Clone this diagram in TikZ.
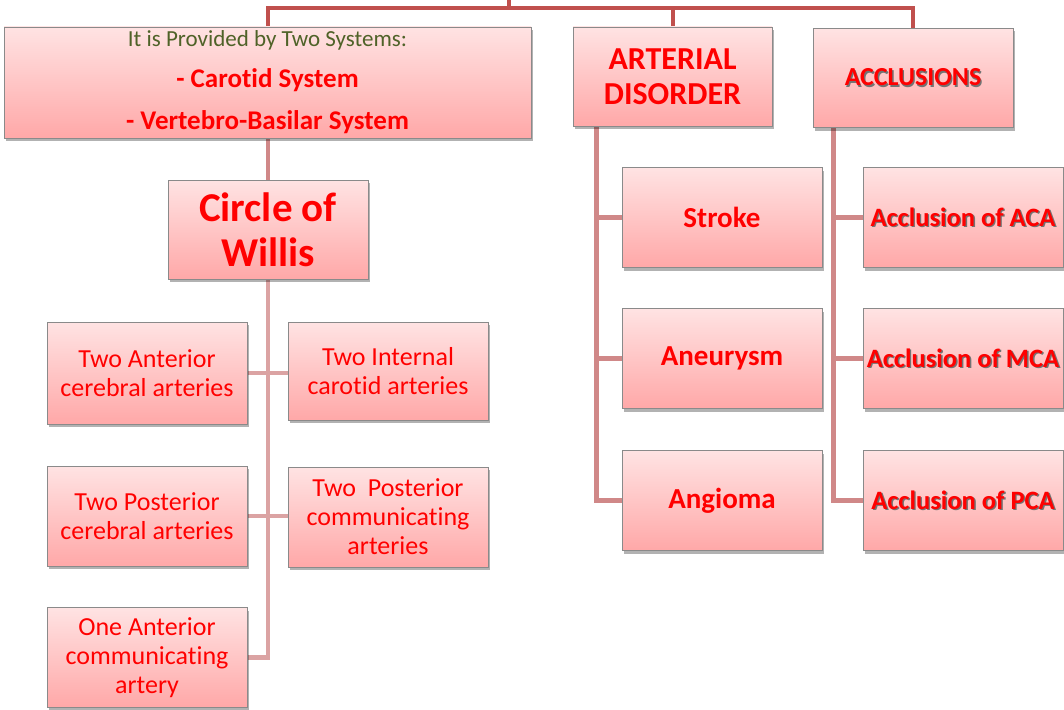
\documentclass[tikz,border=0pt]{standalone}
\usepackage{fontspec}
\setmainfont{Carlito}[Ligatures=CommonOff]
\usetikzlibrary{shadows}
\definecolor{toplinec}{HTML}{C0504D}
\definecolor{midlinec}{HTML}{D08888}
\definecolor{lowlinec}{HTML}{DBA3A3}
\definecolor{boxtop}{HTML}{FFE3E3}
\definecolor{boxbot}{HTML}{FFA8A8}
\definecolor{boxedge}{HTML}{8A8A8A}
\definecolor{olivetext}{HTML}{4F6228}
\definecolor{redtext}{HTML}{FF0000}
\newcommand\txtshadow[1]{\leavevmode\rlap{\kern1.4pt\raisebox{-1.4pt}{\textcolor{black!55}{#1}}}#1}
\pgfdeclarelayer{bg}
\pgfsetlayers{bg,main}
\begin{document}
\begin{tikzpicture}[x=1pt,y=-1pt,
  box/.style={draw=boxedge, line width=0.8pt, top color=boxtop, bottom color=boxbot,
    drop shadow={shadow xshift=2pt, shadow yshift=-3pt, opacity=0.3, fill=black},
    align=center, text=redtext, inner sep=2pt, minimum width=200pt, minimum height=100pt},
  boldbig/.style={font=\fontsize{29}{32}\selectfont\bfseries},
  boldacc/.style={font=\fontsize{26.5}{30}\selectfont\bfseries},
  plain/.style={font=\fontsize{26}{29}\selectfont},
  topline/.style={draw=toplinec, line width=4pt},
  midline/.style={draw=midlinec, line width=4.5pt},
  lowline/.style={draw=lowlinec, line width=4.5pt}]
\useasboundingbox (0,0) rectangle (1064,709);

% nodes
\node[box, minimum width=527pt, minimum height=111pt] (prov) at (267.5,82.5)
  {{\fontsize{23}{23}\selectfont\color{olivetext}It is Provided by Two Systems:}\\[17pt]
   {\fontsize{27}{27}\selectfont\bfseries - Carotid System}\\[18pt]
   {\fontsize{27}{27}\selectfont\bfseries - Vertebro-Basilar System}};
\node[box, minimum height=99pt, font=\fontsize{41}{45}\selectfont\bfseries] (cow) at (268,229.5) {Circle of\\Willis};
\node[box, minimum width=199pt, minimum height=99pt, font=\fontsize{32}{35}\selectfont\bfseries] (art) at (672.5,76.5) {ARTERIAL\\DISORDER};
\node[box, minimum height=99pt, font=\fontsize{26}{29}\selectfont\bfseries] (acc) at (913,78) {\txtshadow{ACCLUSIONS}};

\node[box, boldbig] (str) at (722,217.5) {Stroke};
\node[box, boldbig] (ane) at (722,358.5) {Aneurysm};
\node[box, boldbig] (ang) at (722,500.5) {Angioma};

\node[box, boldacc] (aca) at (963,217.5) {\txtshadow{Acclusion of ACA}};
\node[box, boldacc] (mca) at (963,358.5) {\txtshadow{Acclusion of MCA}};
\node[box, boldacc] (pca) at (963,500.5) {\txtshadow{Acclusion of PCA}};

\node[box, plain, minimum height=102pt] (tac) at (147,373) {Two Anterior\\cerebral arteries};
\node[box, plain, minimum height=98pt] (tic) at (388,371) {Two Internal\\carotid arteries};
\node[box, plain] (tpc) at (147,516) {Two Posterior\\cerebral arteries};
\node[box, plain] (tpcom) at (388,517) {Two~ Posterior\\communicating\\arteries};
\node[box, plain, minimum height=100pt] (one) at (147,657.5) {One Anterior\\communicating\\artery};

% connectors
\begin{pgfonlayer}{bg}
\fill[white] (0,0) rectangle (1064,709);
\coordinate (root) at (509,0);
\coordinate (bus) at (509,8);
\draw[topline] (root) -- (bus);
\draw[topline] (prov.north) |- (bus) -| (acc.north);
\draw[topline] (art.north) -- (art.north |- bus);
\draw[midline] (cow.north |- prov.south) -- (cow.north);
\draw[lowline] (cow.south) |- (one.east);
\draw[lowline] (tac.east) -- (tac.east -| tic.west);
\draw[lowline] (tpc.east) -- (tpc.east -| tpcom.west);
\coordinate (artstem) at ([xshift=24pt]art.south west);
\draw[midline] (artstem) |- (ang.west);
\draw[midline] (str.west) -- (str.west -| artstem);
\draw[midline] (ane.west) -- (ane.west -| artstem);
\coordinate (accstem) at ([xshift=21pt]acc.south west);
\draw[midline] (accstem) |- (pca.west);
\draw[midline] (aca.west) -- (aca.west -| accstem);
\draw[midline] (mca.west) -- (mca.west -| accstem);
\end{pgfonlayer}
\end{tikzpicture}
\end{document}
